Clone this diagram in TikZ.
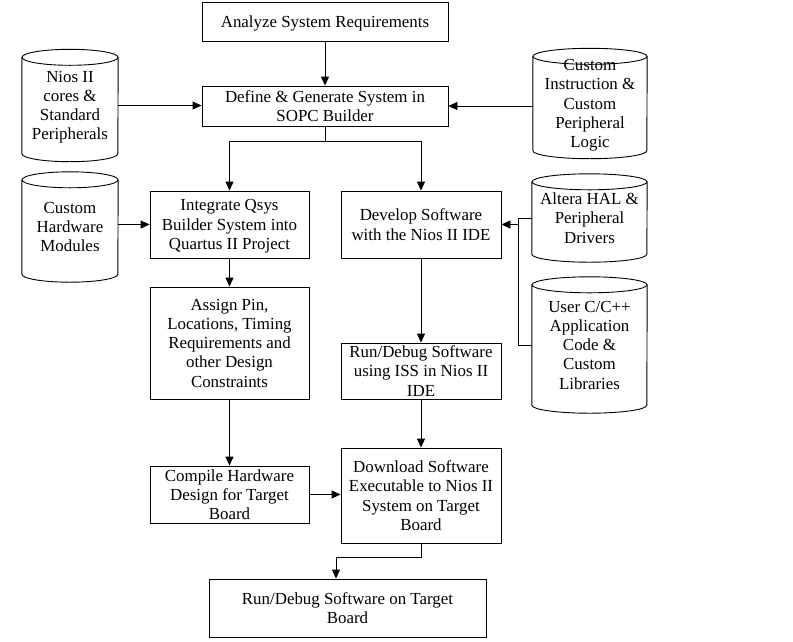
\documentclass[tikz,border=0pt]{standalone}
\usepackage{fontspec}
\setmainfont{Liberation Serif}
\usetikzlibrary{arrows.meta,calc}
\tikzset{
  box/.style={draw, line width=0.9pt, align=center, inner sep=0pt, text depth=0pt, font=\fontsize{16.9}{19.2}\selectfont},
  cyl/.style={align=center, inner sep=0pt, text depth=0pt, font=\fontsize{16.9}{19.2}\selectfont},
  ln/.style={line width=0.9pt},
  arr/.style={line width=0.9pt, -{Triangle[length=9pt,width=8pt]}}
}
\newcommand\cylout[2]{%
  \draw[ln] ([yshift=-8pt]#1.north west) -- ([yshift=8pt]#1.south west)
    arc[start angle=180,end angle=360,x radius=#2,y radius=8pt]
    -- ([yshift=-8pt]#1.north east);
  \draw[ln] ([yshift=-8pt]#1.north) ellipse[x radius=#2,y radius=8pt];
}
\begin{document}
\begin{tikzpicture}[x=1pt,y=-1pt]
\useasboundingbox (0,0) rectangle (793,641);
\node[box, minimum width=246pt, minimum height=39pt] (A) at (325,21.5) {Analyze System Requirements};
\node[box, minimum width=246pt, minimum height=40pt] (B) at (325,106) {Define \& Generate System in\\SOPC Builder};
\node[cyl, minimum width=96pt, minimum height=112pt] (nios) at (70,105.5) {Nios II\\cores \&\\Standard\\Peripherals};
\node[cyl, minimum width=114pt, minimum height=110pt] (cinst) at (590,103.5) {Custom\\Instruction \&\\Custom\\Peripheral\\Logic};
\node[box, minimum width=159pt, minimum height=67pt] (C) at (229.5,224.5) {Integrate Qsys\\Builder System into\\Quartus II Project};
\node[box, minimum width=160pt, minimum height=67pt] (D) at (421,224.5) {Develop Software\\with the Nios II IDE};
\node[cyl, minimum width=96pt, minimum height=110pt] (chw) at (70,227) {Custom\\Hardware\\Modules};
\node[cyl, minimum width=115pt, minimum height=88pt] (hal) at (589.5,218) {Altera HAL \&\\Peripheral\\Drivers};
\node[cyl, minimum width=115pt, minimum height=136pt] (user) at (589.5,345) {User C/C++\\Application\\Code \&\\Custom\\Libraries};
\node[box, minimum width=159pt, minimum height=112pt] (E) at (229.5,343) {Assign Pin,\\Locations, Timing\\Requirements and\\other Design\\Constraints};
\node[box, minimum width=160pt, minimum height=56pt] (F) at (421,371) {Run/Debug Software\\using ISS in Nios II\\IDE};
\node[box, minimum width=159pt, minimum height=57pt] (G) at (229.5,494.5) {Compile Hardware\\Design for Target\\Board};
\node[box, minimum width=160pt, minimum height=95pt] (H) at (421,495.5) {Download Software\\Executable to Nios II\\System on Target\\Board};
\node[box, minimum width=277pt, minimum height=58pt] (I) at (347.5,608) {Run/Debug Software on Target\\Board};
\cylout{nios}{48pt}
\cylout{cinst}{57pt}
\cylout{chw}{48pt}
\cylout{hal}{57.5pt}
\cylout{user}{57.5pt}
% connectors
\draw[arr] (A.south) -- (B.north);
\draw[arr] (nios.east) -- (nios.east -| B.west);
\draw[arr] (cinst.west |- B.east) -- (B.east);
\coordinate (j1) at (325,141);
\draw[ln] (B.south) -- (j1);
\draw[arr] (j1) -| (C.north);
\draw[arr] (j1) -| (D.north);
\draw[arr] (chw.east |- C.west) -- (C.west);
\coordinate (rb) at (518,0);
\draw[ln] (hal.west) -| (rb |- user.west) -- (user.west);
\draw[arr] (rb |- D.east) -- (D.east);
\draw[arr] (C.south) -- (E.north);
\draw[arr] (D.south) -- (F.north);
\draw[arr] (E.south) -- (G.north);
\draw[arr] (F.south) -- (H.north);
\draw[arr] (G.east) -- (G.east -| H.west);
\coordinate (j2) at (336,557);
\draw[arr] (H.south) |- (j2) -- (j2 |- I.north);
\end{tikzpicture}
\end{document}
